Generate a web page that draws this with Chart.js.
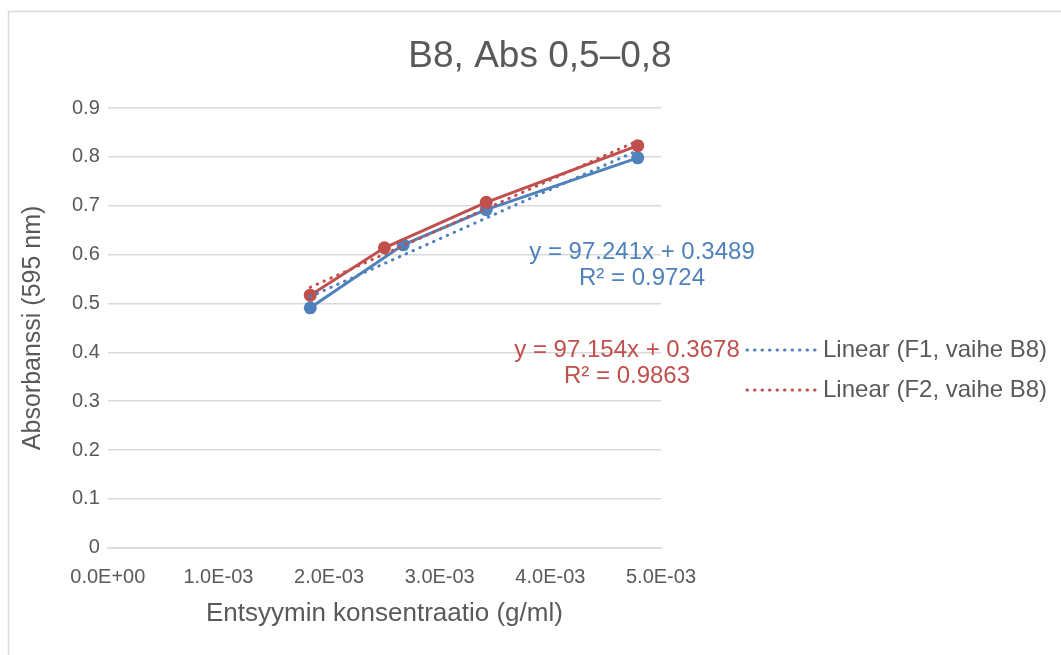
<!DOCTYPE html>
<html>
<head>
<meta charset="utf-8">
<script src="https://cdn.jsdelivr.net/npm/chart.js@4.4.1/dist/chart.umd.min.js"></script>
<style>
  html, body { margin: 0; padding: 0; background: #fff; }
  #wrap { width: 1061px; height: 655px; position: relative; }
</style>
</head>
<body>
<div id="wrap"><canvas id="mychart"></canvas></div>
<script>
'use strict';

// values

let xF1 = [0.00183, 0.00267, 0.00342, 0.00479];
let yF1 = [0.491, 0.620, 0.692, 0.798];

let xF2 = [0.00183, 0.00250, 0.00342, 0.00479];
let yF2 = [0.517, 0.614, 0.707, 0.823];

let xTicks = [0, 0.001, 0.002, 0.003, 0.004, 0.005];
let yTicks = [0, 0.1, 0.2, 0.3, 0.4, 0.5, 0.6, 0.7, 0.8, 0.9];

let chartTitle = 'B8, Abs 0,5\u20130,8';
let seriesNames = ['F1, vaihe B8', 'F2, vaihe B8'];
let eqF1 = ['y = 97.241x + 0.3489', 'R\u00b2 = 0.9724'];
let eqF2 = ['y = 97.154x + 0.3678', 'R\u00b2 = 0.9863'];

let blue = '#4F81BD';
let red = '#C0504D';
let textGrey = '#595959';
let gridGrey = '#d9d9d9';
let fontName = "'Liberation Sans', Arial, sans-serif";

// dom references

let ctxWindow = document.getElementById('mychart');

function toPoints(xs, ys) {
  let pts = [];
  for (let i = 0; i < xs.length; i++) {
    pts.push({ x: xs[i], y: ys[i] });
  }
  return pts;
}

// least squares trend line, drawn over the range of the data
function trendPoints(xs, ys) {
  let n = xs.length;
  let mx = 0, my = 0;
  for (let i = 0; i < n; i++) { mx += xs[i]; my += ys[i]; }
  mx /= n; my /= n;
  let sxy = 0, sxx = 0;
  for (let i = 0; i < n; i++) {
    sxy += (xs[i] - mx) * (ys[i] - my);
    sxx += (xs[i] - mx) * (xs[i] - mx);
  }
  let k = sxy / sxx;
  let b = my - k * mx;
  let x0 = Math.min(...xs);
  let x1 = Math.max(...xs);
  return [{ x: x0, y: k * x0 + b }, { x: x1, y: k * x1 + b }];
}

function sciLabel(v) {
  if (v === 0) return '0.0E+00';
  let e = Math.floor(Math.log10(Math.abs(v)) + 1e-9);
  let m = v / Math.pow(10, e);
  let sign = e < 0 ? '-' : '+';
  let ex = String(Math.abs(e)).padStart(2, '0');
  return m.toFixed(1) + 'E' + sign + ex;
}

// border, title, legend and equation labels
let extrasPlugin = {
  id: 'extras',
  beforeDraw(chart) {
    let c = chart.ctx;
    c.save();
    c.strokeStyle = gridGrey;
    c.lineWidth = 1.5;
    c.beginPath();
    c.moveTo(8.5, 655);
    c.lineTo(8.5, 11.5);
    c.lineTo(1061, 11.5);
    c.stroke();
    c.restore();
  },
  afterDraw(chart) {
    let c = chart.ctx;
    c.save();
    c.textBaseline = 'middle';

    // title, centred on the whole chart
    c.font = '37px ' + fontName;
    c.fillStyle = textGrey;
    c.textAlign = 'center';
    c.fillText(chartTitle, 540, 57);

    // equations
    c.font = '24px ' + fontName;
    c.fillStyle = blue;
    c.fillText(eqF1[0], 642, 252);
    c.fillText(eqF1[1], 642, 278);
    c.fillStyle = red;
    c.fillText(eqF2[0], 627, 350);
    c.fillText(eqF2[1], 627, 376);

    // legend (only the trend lines)
    let rows = [{ name: seriesNames[0], color: blue, y: 350 }, { name: seriesNames[1], color: red, y: 390 }];
    for (let i = 0; i < rows.length; i++) {
      c.strokeStyle = rows[i].color;
      c.lineWidth = 3;
      c.lineCap = 'round';
      c.setLineDash([0.5, 7]);
      c.beginPath();
      c.moveTo(747, rows[i].y);
      c.lineTo(818, rows[i].y);
      c.stroke();
      c.setLineDash([]);
      c.fillStyle = textGrey;
      c.textAlign = 'left';
      c.fillText('Linear (' + rows[i].name + ')', 823, rows[i].y);
    }
    c.restore();
  }
};

let myObj = {
  type: 'scatter',
  data: {
    datasets: [
      {
        label: 'Linear (' + seriesNames[0] + ')',
        data: trendPoints(xF1, yF1),
        showLine: true,
        borderColor: blue,
        borderWidth: 3,
        borderDash: [0.5, 7],
        borderCapStyle: 'round',
        pointRadius: 0,
        fill: false
      },
      {
        label: 'Linear (' + seriesNames[1] + ')',
        data: trendPoints(xF2, yF2),
        showLine: true,
        borderColor: red,
        borderWidth: 3,
        borderDash: [0.5, 7],
        borderCapStyle: 'round',
        pointRadius: 0,
        fill: false
      },
      {
        label: seriesNames[1],
        data: toPoints(xF2, yF2),
        showLine: true,
        borderColor: red,
        backgroundColor: red,
        borderWidth: 3,
        pointRadius: 6.5,
        pointBorderWidth: 0,
        fill: false
      },
      {
        label: seriesNames[0],
        data: toPoints(xF1, yF1),
        showLine: true,
        borderColor: blue,
        backgroundColor: blue,
        borderWidth: 3,
        pointRadius: 6.5,
        pointBorderWidth: 0,
        fill: false
      }
    ]
  },
  options: {
    responsive: true,
    maintainAspectRatio: false,
    animation: false,
    layout: {
      padding: { left: 12, right: 400, top: 108, bottom: 22 }
    },
    plugins: {
      legend: { display: false },
      tooltip: { enabled: false },
      title: { display: false }
    },
    scales: {
      x: {
        type: 'linear',
        min: 0,
        max: 0.005,
        afterBuildTicks: function (s) {
          s.ticks = xTicks.map(v => ({ value: v }));
        },
        ticks: {
          color: textGrey,
          font: { family: fontName, size: 20 },
          padding: 18,
          maxRotation: 0,
          callback: v => sciLabel(v)
        },
        grid: { display: false, drawTicks: false },
        border: { display: true, color: gridGrey, width: 1.5 },
        title: {
          display: true,
          text: 'Entsyymin konsentraatio (g/ml)',
          color: textGrey,
          font: { family: fontName, size: 26 },
          padding: { top: -10, bottom: 4 }
        }
      },
      y: {
        min: 0,
        max: 0.9,
        afterBuildTicks: function (s) {
          s.ticks = yTicks.map(v => ({ value: v }));
        },
        ticks: {
          color: textGrey,
          font: { family: fontName, size: 20 },
          padding: 8,
          callback: v => (v === 0 ? '0' : v.toFixed(1))
        },
        grid: { color: gridGrey, lineWidth: 1.5, drawTicks: false },
        border: { display: false },
        title: {
          display: true,
          text: 'Absorbanssi (595 nm)',
          color: textGrey,
          font: { family: fontName, size: 25 },
          padding: { top: 6, bottom: 16 }
        }
      }
    }
  },
  plugins: [extrasPlugin]
};

const myChart = new Chart(ctxWindow, myObj);
</script>
</body>
</html>
